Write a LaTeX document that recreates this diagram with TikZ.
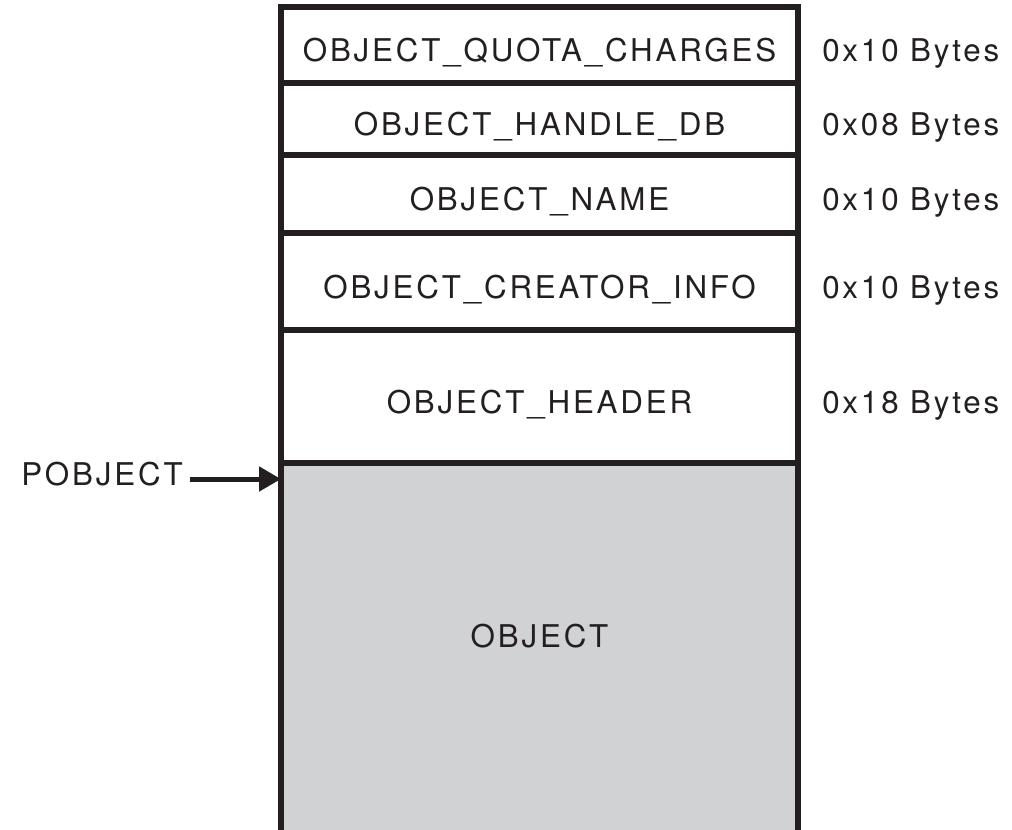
\documentclass[tikz,border=0pt]{standalone}
\usepackage{fontspec}
\setmainfont{TeX Gyre Heros}[LetterSpace=9]
\usepackage{tikz}
\usetikzlibrary{arrows.meta, positioning}
\definecolor{ink}{RGB}{35,31,32}
\definecolor{objgray}{RGB}{209,210,212}

\begin{document}
\begin{tikzpicture}[
    x=0.75pt, y=-0.75pt,
    node distance=0pt,
    every node/.style={font=\fontsize{23.5pt}{28pt}\selectfont, text=ink},
    field/.style={rectangle, draw=ink, line width=4.3pt, outer sep=0pt,
                  minimum width=387.75pt, text depth=0pt, text height=25pt},
    objbox/.style={field, fill=objgray},
    size/.style={inner sep=0pt, text depth=0pt, text height=25pt},
    ptr/.style={-{Triangle[length=16.5pt, width=18pt]}, line width=3.75pt, draw=ink},
]
\useasboundingbox (0,0) rectangle (1012,829);

% header chunks, top down
\node[field, anchor=north west, minimum height=57pt] (quota) at (281,7) {OBJECT\_QUOTA\_CHARGES};
\node[field, below=of quota, minimum height=54pt] (handle) {OBJECT\_HANDLE\_DB};
\node[field, below=of handle, minimum height=58.5pt] (name) {OBJECT\_NAME};
\node[field, below=of name, minimum height=72.75pt] (creator) {OBJECT\_CREATOR\_INFO};
\node[field, below=of creator, minimum height=99.75pt] (header) {OBJECT\_HEADER};
\node[objbox, below=of header, minimum height=300pt] (obj) {};
\node[text depth=0pt, text height=17pt] (objlbl) at ([yshift=20pt]obj.center) {OBJECT};

% sizes
\node[size, right=18pt of quota] (quotasz) {0x10 Bytes};
\node[size, right=18pt of handle] (handlesz) {0x08 Bytes};
\node[size, right=18pt of name] (namesz) {0x10 Bytes};
\node[size, right=18pt of creator] (creatorsz) {0x10 Bytes};
\node[size, right=18pt of header] (headersz) {0x18 Bytes};

% pointer
\coordinate (hit) at ([yshift=-12pt]obj.north west);
\node[inner sep=0pt, inner xsep=5pt, text depth=0pt, text height=9pt] (pobj) at (102,479) {POBJECT};
\draw[ptr] (pobj) -- (hit);
\end{tikzpicture}
\end{document}
